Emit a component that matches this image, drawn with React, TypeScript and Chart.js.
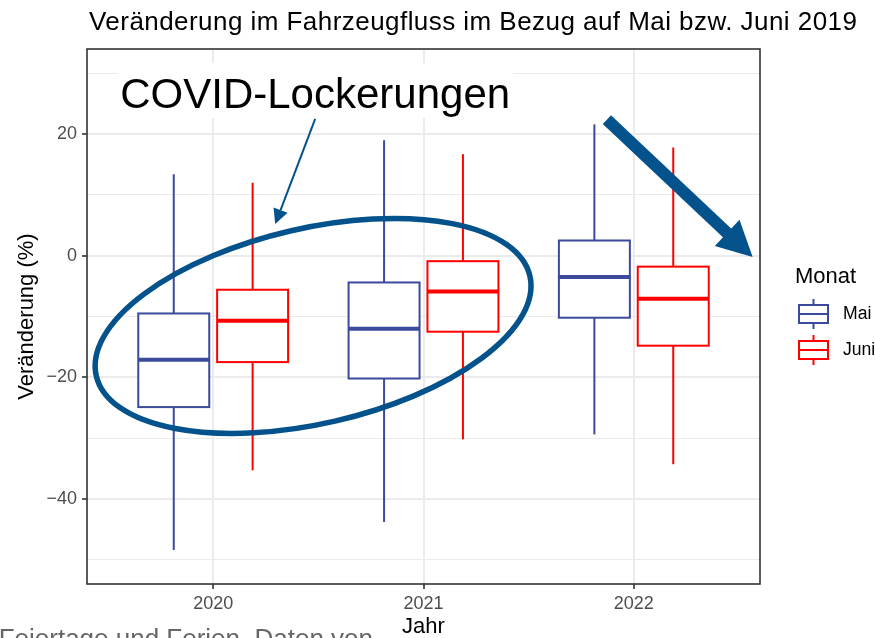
import React, { useEffect, useRef } from 'react';
import { Chart, registerables } from 'chart.js';

Chart.register(...registerables);

// ---------- data ----------
const years = [2020, 2021, 2022];
const months = ['Mai', 'Juni'];

const maiMin = [-48.4, -43.8, -29.4];
const maiQ1 = [-24.9, -20.2, -10.2];
const maiMedian = [-17.1, -12.0, -3.5];
const maiQ3 = [-9.5, -4.4, 2.5];
const maiMax = [13.4, 19.0, 21.6];

const juniMin = [-35.3, -30.2, -34.3];
const juniQ1 = [-17.5, -12.5, -14.8];
const juniMedian = [-10.7, -5.9, -7.1];
const juniQ3 = [-5.6, -0.9, -1.8];
const juniMax = [12.0, 16.7, 17.8];

const yGridValues = [-50, -40, -30, -20, -10, 0, 10, 20, 30];
const yLabelValues = [-40, -20, 0, 20];

const titleText = 'Veränderung im Fahrzeugfluss im Bezug auf Mai bzw. Juni 2019';
const xTitleText = 'Jahr';
const yTitleText = 'Veränderung (%)';
const legendTitleText = 'Monat';
const calloutText = 'COVID-Lockerungen';
const captionText = 'Feiertage und Ferien. Daten von';

// annotation anchors (data units)
const calloutAt = { x: 2020.485, y: 27.15 };
const smallArrowAt = { x0: 2020.485, y0: 22.5, x1: 2020.295, y1: 5.2 };
const ellipseAt = { x: 2020.475, y: -11.55 };
const bigArrowAt = { x0: 2021.872, y0: 22.4, x1: 2022.565, y1: -0.2 };

// ---------- style ----------
const FONT = "'Liberation Sans', Arial, Helvetica, sans-serif";
const MAI_COLOR = '#3C4A9B';
const JUNI_COLOR = '#FF0000';
const ANNOT_COLOR = '#03528C';
const GRID_COLOR = '#EBEBEB';
const FRAME_COLOR = '#333333';
const DODGE = [-0.1875, 0.1875];
const BOX_WIDTH = 0.3375;

const stats = [
  [maiMin, maiQ1, maiMedian, maiQ3, maiMax],
  [juniMin, juniQ1, juniMedian, juniQ3, juniMax],
];

function line(ctx: CanvasRenderingContext2D, x0: number, y0: number, x1: number, y1: number) {
  ctx.beginPath();
  ctx.moveTo(x0, y0);
  ctx.lineTo(x1, y1);
  ctx.stroke();
}

function arrowHead(ctx: CanvasRenderingContext2D, bx: number, by: number, tx: number, ty: number, len: number, half: number) {
  const ang = Math.atan2(ty - by, tx - bx);
  const baseX = tx - len * Math.cos(ang);
  const baseY = ty - len * Math.sin(ang);
  const nx = -Math.sin(ang);
  const ny = Math.cos(ang);
  ctx.beginPath();
  ctx.moveTo(tx, ty);
  ctx.lineTo(baseX + nx * half, baseY + ny * half);
  ctx.lineTo(baseX - nx * half, baseY - ny * half);
  ctx.closePath();
  ctx.fill();
  return { baseX, baseY };
}

const drawPlugin = {
  id: 'boxplotAndAnnotations',
  afterDatasetsDraw(chart: any) {
    const { ctx, chartArea: a, scales } = chart;
    const xs = scales.x;
    const ys = scales.y;
    const Y = (v: number) => ys.getPixelForValue(v);
    ctx.save();
    ctx.beginPath();
    ctx.rect(a.left, a.top, a.right - a.left, a.bottom - a.top);
    ctx.clip();

    // boxplots
    chart.data.datasets.forEach((ds: any, d: number) => {
      const [mn, q1, md, q3, mx] = stats[d];
      years.forEach((yr, i) => {
        const cx = xs.getPixelForValue(yr + DODGE[d]);
        const hw = xs.getPixelForValue(yr + BOX_WIDTH / 2) - xs.getPixelForValue(yr);
        ctx.strokeStyle = ds.borderColor;
        ctx.lineCap = 'butt';
        ctx.lineWidth = 2;
        line(ctx, cx, Y(mx[i]), cx, Y(q3[i]));
        line(ctx, cx, Y(q1[i]), cx, Y(mn[i]));
        ctx.fillStyle = '#FFFFFF';
        ctx.fillRect(cx - hw, Y(q3[i]), 2 * hw, Y(q1[i]) - Y(q3[i]));
        ctx.strokeRect(cx - hw, Y(q3[i]), 2 * hw, Y(q1[i]) - Y(q3[i]));
        ctx.lineWidth = 4;
        line(ctx, cx - hw, Y(md[i]), cx + hw, Y(md[i]));
      });
    });

    // callout label with white background
    ctx.font = `42px ${FONT}`;
    const tw = ctx.measureText(calloutText).width;
    const lx = xs.getPixelForValue(calloutAt.x);
    const ly = Y(calloutAt.y);
    ctx.fillStyle = '#FFFFFF';
    ctx.fillRect(lx - tw / 2 - 3, ly - 27.5, tw + 6, 55);
    ctx.fillStyle = '#000000';
    ctx.textAlign = 'center';
    ctx.textBaseline = 'alphabetic';
    ctx.fillText(calloutText, lx, ly + 17.5);

    // small arrow
    ctx.strokeStyle = ANNOT_COLOR;
    ctx.fillStyle = ANNOT_COLOR;
    {
      const x0 = xs.getPixelForValue(smallArrowAt.x0);
      const y0 = Y(smallArrowAt.y0);
      const x1 = xs.getPixelForValue(smallArrowAt.x1);
      const y1 = Y(smallArrowAt.y1);
      const { baseX, baseY } = arrowHead(ctx, x0, y0, x1, y1, 15, 7.5);
      ctx.lineWidth = 2;
      line(ctx, x0, y0, baseX, baseY);
    }

    // ellipse
    ctx.lineWidth = 5.5;
    ctx.beginPath();
    ctx.ellipse(xs.getPixelForValue(ellipseAt.x), Y(ellipseAt.y), 222.5, 97.7, (-12.95 * Math.PI) / 180, 0, Math.PI * 2);
    ctx.stroke();

    // big arrow
    {
      const x0 = xs.getPixelForValue(bigArrowAt.x0);
      const y0 = Y(bigArrowAt.y0);
      const x1 = xs.getPixelForValue(bigArrowAt.x1);
      const y1 = Y(bigArrowAt.y1);
      const { baseX, baseY } = arrowHead(ctx, x0, y0, x1, y1, 35, 18);
      ctx.lineWidth = 12;
      ctx.lineCap = 'butt';
      line(ctx, x0, y0, baseX + (x1 - x0) * 0.01, baseY + (y1 - y0) * 0.01);
    }
    ctx.restore();

    // panel border
    ctx.save();
    ctx.strokeStyle = FRAME_COLOR;
    ctx.lineWidth = 1.6;
    ctx.strokeRect(a.left, a.top, a.right - a.left, a.bottom - a.top);
    ctx.restore();
  },
  afterDraw(chart: any) {
    const { ctx, chartArea: a } = chart;
    ctx.save();
    // title
    ctx.font = `26px ${FONT}`;
    ctx.fillStyle = '#000000';
    ctx.textAlign = 'left';
    ctx.textBaseline = 'alphabetic';
    try { (ctx as any).letterSpacing = '0.45px'; } catch (e) {}
    ctx.fillText(titleText, a.left + 2, 30);
    try { (ctx as any).letterSpacing = '0px'; } catch (e) {}

    // legend
    const lx = a.right + 35;
    ctx.font = `22px ${FONT}`;
    ctx.fillText(legendTitleText, lx, 283);
    chart.data.datasets.forEach((ds: any, k: number) => {
      const cy = 314 + k * 36;
      const kx = lx + 4;
      const kw = 29;
      ctx.strokeStyle = ds.borderColor;
      ctx.lineWidth = 2;
      line(ctx, kx + kw / 2, cy - 15, kx + kw / 2, cy + 15);
      ctx.fillStyle = '#FFFFFF';
      ctx.fillRect(kx, cy - 9, kw, 18);
      ctx.strokeRect(kx, cy - 9, kw, 18);
      line(ctx, kx, cy, kx + kw, cy);
      ctx.fillStyle = '#000000';
      ctx.font = `17.6px ${FONT}`;
      ctx.textBaseline = 'middle';
      ctx.fillText(ds.label, kx + 44, cy);
      ctx.textBaseline = 'alphabetic';
    });

    // caption (partially cut off in the reference)
    ctx.font = `26px ${FONT}`;
    ctx.fillStyle = '#666666';
    ctx.textAlign = 'right';
    ctx.fillText(captionText, 373, 647);
    ctx.restore();
  },
};

export default function App() {
  const ref = useRef<HTMLCanvasElement | null>(null);

  useEffect(() => {
    if (!ref.current) return;
    Chart.defaults.font.family = FONT;
    const chart = new Chart(ref.current, {
      type: 'scatter',
      data: {
        datasets: [
          {
            label: months[0],
            data: years.map((yr, i) => ({ x: yr, y: maiMedian[i] })),
            borderColor: MAI_COLOR,
            backgroundColor: MAI_COLOR,
            pointRadius: 0,
            pointHoverRadius: 0,
          },
          {
            label: months[1],
            data: years.map((yr, i) => ({ x: yr, y: juniMedian[i] })),
            borderColor: JUNI_COLOR,
            backgroundColor: JUNI_COLOR,
            pointRadius: 0,
            pointHoverRadius: 0,
          },
        ],
      },
      options: {
        animation: false,
        responsive: false,
        maintainAspectRatio: false,
        events: [],
        layout: { padding: { top: 49, right: 115, bottom: 0, left: 0 } },
        plugins: {
          legend: { display: false },
          title: { display: false },
          tooltip: { enabled: false },
        },
        scales: {
          x: {
            type: 'linear',
            min: 2019.4,
            max: 2022.6,
            afterBuildTicks: (s: any) => {
              s.ticks = years.map((v) => ({ value: v }));
            },
            afterFit: (s: any) => {
              s.height = 56;
            },
            border: { display: false },
            grid: {
              color: GRID_COLOR,
              lineWidth: 2,
              tickLength: 5,
              tickColor: FRAME_COLOR,
              tickWidth: 1.6,
            },
            ticks: {
              autoSkip: false,
              maxRotation: 0,
              padding: 4,
              color: '#4D4D4D',
              font: { size: 18, family: FONT },
              callback: (v: any) => String(v),
            },
            title: {
              display: true,
              text: xTitleText,
              color: '#000000',
              font: { size: 22, family: FONT },
              padding: { top: 0, bottom: 0 },
            },
          },
          y: {
            type: 'linear',
            min: -54,
            max: 34,
            afterBuildTicks: (s: any) => {
              s.ticks = yGridValues.map((v) => ({ value: v }));
            },
            afterFit: (s: any) => {
              s.width = 87;
            },
            border: { display: false },
            grid: {
              color: GRID_COLOR,
              lineWidth: (c: any) => (c.tick && yLabelValues.includes(c.tick.value) ? 2 : 1),
              tickLength: 5,
              tickColor: (c: any) => (c.tick && yLabelValues.includes(c.tick.value) ? FRAME_COLOR : 'rgba(0,0,0,0)'),
              tickWidth: 1.6,
            },
            ticks: {
              autoSkip: false,
              padding: 5,
              color: '#4D4D4D',
              font: { size: 18, family: FONT },
              callback: (v: any) =>
                yLabelValues.includes(v) ? (v < 0 ? '\u2212' + Math.abs(v) : String(v)) : '',
            },
            title: {
              display: true,
              text: yTitleText,
              color: '#000000',
              font: { size: 22, family: FONT },
              padding: { top: 14, bottom: 0 },
            },
          },
        },
      },
      plugins: [drawPlugin],
    } as any);
    return () => chart.destroy();
  }, []);

  return (
    <div
      style={{
        position: 'fixed',
        left: 0,
        top: 0,
        width: 875,
        height: 638,
        overflow: 'hidden',
        background: '#FFFFFF',
      }}
    >
      <canvas ref={ref} width={875} height={640} style={{ display: 'block' }} />
    </div>
  );
}
